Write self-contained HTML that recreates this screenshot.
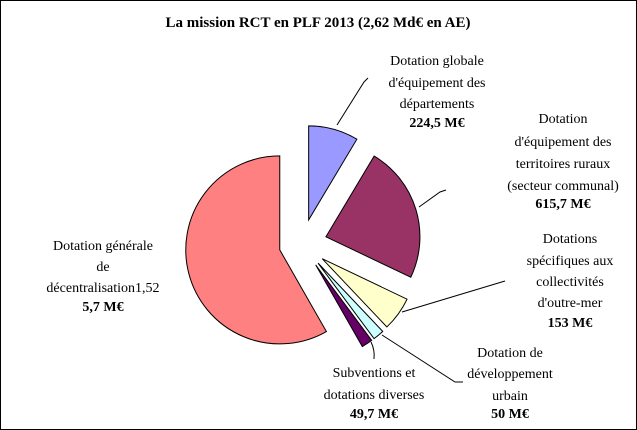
<!DOCTYPE html>
<html><head><meta charset="utf-8"><style>
html,body{margin:0;padding:0;background:#fff}
svg{display:block;font-family:"Liberation Serif",serif}
</style></head><body>
<svg width="637" height="430" viewBox="0 0 637 430">
<rect x="0.5" y="0.5" width="636" height="429" fill="#fff" stroke="#000"/>
<text x="318" y="27" text-anchor="middle" font-size="15" font-weight="bold">La mission RCT en PLF 2013 (2,62 Md€ en AE)</text>
<g id="slices"></g>
<g id="leaders" stroke="#000" fill="none" stroke-width="1">
<polyline points="337,125 364,82 368,78"/>
<polyline points="419,207 440,192 446,190"/>
<polyline points="402,312 505,281"/>
<polyline points="382,335 455,382 463,382"/>
<path d="M371,342 Q375,350 374,359"/>
</g>
<g font-size="14" text-anchor="middle" id="labels">
<text><tspan x="437" y="65">Dotation globale</tspan><tspan x="437" y="87">d'équipement des</tspan><tspan x="437" y="108">départements</tspan><tspan x="437" y="127" font-weight="bold">224,5 M€</tspan></text>
<text><tspan x="563" y="123">Dotation</tspan><tspan x="563" y="146">d'équipement des</tspan><tspan x="563" y="168">territoires ruraux</tspan><tspan x="563" y="190">(secteur communal)</tspan><tspan x="563" y="208" font-weight="bold">615,7 M€</tspan></text>
<text><tspan x="570" y="243">Dotations</tspan><tspan x="570" y="265">spécifiques aux</tspan><tspan x="570" y="286">collectivités</tspan><tspan x="570" y="307">d'outre-mer</tspan><tspan x="570" y="327" font-weight="bold">153 M€</tspan></text>
<text><tspan x="510" y="357">Dotation de</tspan><tspan x="510" y="378">développement</tspan><tspan x="510" y="400">urbain</tspan><tspan x="510" y="418" font-weight="bold">50 M€</tspan></text>
<text><tspan x="374" y="377">Subventions et</tspan><tspan x="374" y="399">dotations diverses</tspan><tspan x="374" y="418" font-weight="bold">49,7 M€</tspan></text>
<text><tspan x="103" y="250">Dotation générale</tspan><tspan x="103" y="271">de</tspan><tspan x="103" y="292">décentralisation1,52</tspan><tspan x="103" y="311" font-weight="bold">5,7 M€</tspan></text>
</g>
</svg>
<script>
const categories = ["dge","detr","dscom","ddu","subventions","dgd"];
const values = [224.5, 615.7, 153, 50, 49.7, 1525.7];
const colors = ["#9999ff","#993366","#ffffcc","#ccffff","#660066","#ff8080"];
const cx = 302, cy = 244, r = 94, explode = 25, explodeBig = 23;
const total = values.reduce((a,b)=>a+b,0);
const g = document.getElementById('slices');
let a0 = 0;
values.forEach((v,i)=>{
  const a1 = a0 + v/total*2*Math.PI;
  const mid = (a0+a1)/2;
  const e = (a1-a0) > Math.PI ? explodeBig : explode;
  const ox = cx + e*Math.sin(mid), oy = cy - e*Math.cos(mid);
  const x0 = ox + r*Math.sin(a0), y0 = oy - r*Math.cos(a0);
  const x1 = ox + r*Math.sin(a1), y1 = oy - r*Math.cos(a1);
  const large = (a1-a0) > Math.PI ? 1 : 0;
  const p = document.createElementNS('http://www.w3.org/2000/svg','path');
  p.setAttribute('d', `M${ox},${oy} L${x0},${y0} A${r},${r} 0 ${large} 1 ${x1},${y1} Z`);
  p.setAttribute('fill', colors[i]);
  p.setAttribute('stroke', '#000');
  p.setAttribute('stroke-width', '1');
  
  
  g.appendChild(p);
  a0 = a1;
});
</script>
</body></html>
